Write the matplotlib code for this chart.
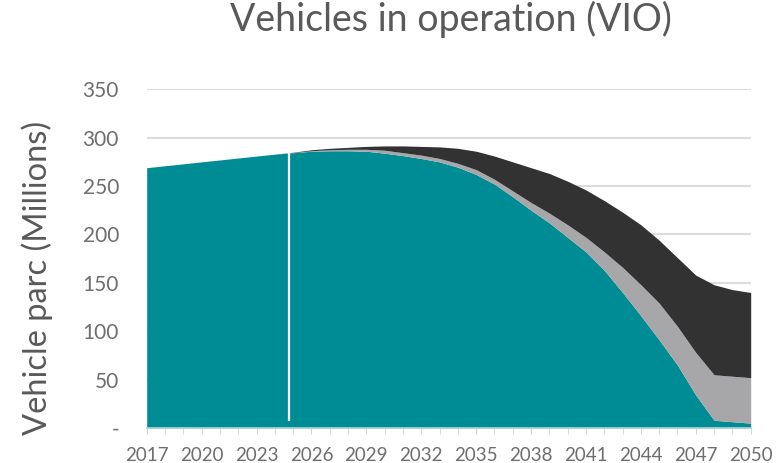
import matplotlib.pyplot as plt
import numpy as np

plt.rcParams['font.family'] = ['Lato', 'DejaVu Sans']

years = np.arange(2017, 2051)

# stacked boundaries (cumulative, millions of vehicles)
teal_top = [269, 271, 273, 275, 277, 279, 281, 283, 284.5, 286,
            286.5, 286.5, 286, 284, 281.5, 278.5, 275, 269.5, 262, 252,
            239, 225, 212, 197, 182, 163, 140, 116, 91, 65,
            34, 8, 6.5, 5]
grey_top = [269, 271, 273, 275, 277, 279, 281, 283, 284.7, 286.5,
            287.5, 288, 288, 287, 284.5, 282, 278.5, 273.5, 267, 257,
            245, 233, 222, 210, 197, 182, 166, 148, 129, 105,
            78, 55, 53.5, 52]
dark_top = [269, 271, 273, 275, 277, 279, 281, 283, 285, 287.5,
            289, 290, 291, 291.5, 291.5, 291, 290.5, 289, 286, 281,
            275, 269, 263, 255, 246, 235, 223, 210, 194, 176,
            158, 148, 143, 140]

y_ticks = [0, 50, 100, 150, 200, 250, 300, 350]
y_labels = ['-', '50', '100', '150', '200', '250', '300', '350']
x_labels = list(range(2017, 2051, 3))

teal = '#008c94'
grey = '#a7a7aa'
dark = '#323232'

fig = plt.figure(figsize=(7.77, 4.63), dpi=100)
ax = fig.add_axes([146.7/777, 1-428/463, 604/777, (428-89.3)/463])

ax.fill_between(years, 0, teal_top, color=teal, lw=0)
ax.fill_between(years, teal_top, grey_top, color=grey, lw=0)
ax.fill_between(years, grey_top, dark_top, color=dark, lw=0)

# marker line for the current year
ax.axvline(2024.75, ymin=8/350, ymax=297/350, color='white', lw=1.6)

ax.set_xlim(2017, 2050)
ax.set_ylim(0, 350)
ax.set_yticks(y_ticks)
ax.set_yticklabels(y_labels)
ax.set_xticks(x_labels)
ax.set_xticks(years, minor=True)
ax.grid(axis='y', color='#dcdcdc', lw=1.5)
ax.set_axisbelow(True)

for s in ['top', 'right', 'left']:
    ax.spines[s].set_visible(False)
ax.spines['bottom'].set_color('#b5d3da')
ax.spines['bottom'].set_linewidth(1.2)

ax.tick_params(axis='y', length=0, labelsize=15, labelcolor='#6e6e6e', pad=20)
ax.tick_params(axis='x', which='both', length=4, color='#c5d8de',
               labelsize=13.5, labelcolor='#6e6e6e', pad=10)

ax.set_ylabel('Vehicle parc (Millions)', fontsize=23.5, color='#595959')
ax.yaxis.set_label_coords(-0.155, 0.443)

fig.text(451/777, 1-31/463, 'Vehicles in operation (VIO)', ha='center',
         va='baseline', fontsize=27, color='#595959')

fig.savefig('out.png', dpi=100)
